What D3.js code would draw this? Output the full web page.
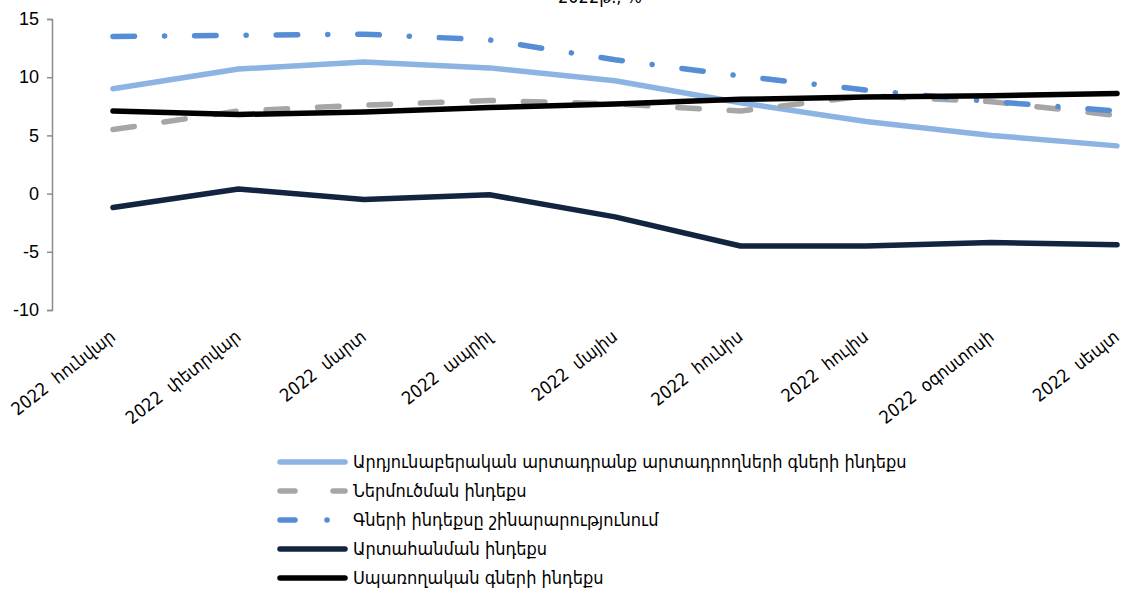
<!DOCTYPE html>
<html>
<head>
<meta charset="utf-8">
<script src="https://cdn.jsdelivr.net/npm/d3@7"></script>
<style>
  body { margin: 0; background: #fff; }
  svg { display: block; }
  text { font-family: "Liberation Sans", "DejaVu Sans", sans-serif; fill: #000; }
  .arm { font-family: "DejaVu Sans Condensed", "DejaVu Sans", sans-serif; }
</style>
</head>
<body>
<div id="chart"></div>
<script>
// data
var months = ["2022  հունվար", "2022  փետրվար", "2022  մարտ", "2022  ապրիլ", "2022  մայիս",
              "2022  հունիս", "2022  հուլիս", "2022  օգոստոսի", "2022  սեպտ"];
var ppi = [9.0, 10.7, 11.3, 10.8, 9.7, 7.8, 6.2, 5.0, 4.1];
var importIdx = [5.5, 7.1, 7.6, 8.0, 7.7, 7.1, 8.4, 7.9, 6.7];
var construction = [13.5, 13.6, 13.7, 13.2, 11.5, 10.1, 8.9, 7.9, 7.1];
var exportIdx = [-1.2, 0.4, -0.5, -0.1, -2.0, -4.5, -4.5, -4.2, -4.4];
var cpi = [7.1, 6.8, 7.0, 7.4, 7.7, 8.1, 8.3, 8.4, 8.6];
var yTicks = [15, 10, 5, 0, -5, -10];

var series = [
  {name: "Արդյունաբերական արտադրանք արտադրողների գների ինդեքս", values: ppi, color: "#8db3e2", dash: null},
  {name: "Ներմուծման ինդեքս", values: importIdx, color: "#a6a6a6", dash: "21.5 30"},
  {name: "Գների ինդեքսը շինարարությունում", values: construction, color: "#558ed5", dash: "21.5 30 0.1 30"},
  {name: "Արտահանման ինդեքս", values: exportIdx, color: "#12243f", dash: null},
  {name: "Սպառողական գների ինդեքս", values: cpi, color: "#000000", dash: null}
];

var W = 1124, H = 590;
var svg = d3.select("#chart").append("svg")
    .attr("width", W)
    .attr("height", H);

// title, mostly cut off at the top
svg.append("text")
    .attr("class", "arm")
    .attr("x", 600)
    .attr("y", 3)
    .attr("text-anchor", "middle")
    .style("font-size", "18px")
    .text("2022թ., %");

var x = d3.scalePoint()
    .domain(months)
    .range([113, 1117]);

var y = d3.scaleLinear()
    .domain([-10, 15])
    .range([310, 19]);

// y axis
var yAxis = svg.append("g")
    .attr("transform", "translate(52,0)")
    .call(d3.axisLeft(y).tickValues(yTicks).tickSize(5).tickPadding(8)
      .tickFormat(function(d) { return d < 0 ? "-" + Math.abs(d) : String(d); }));
yAxis.select(".domain").attr("stroke", "#8c8c8c").attr("stroke-width", 1.5);
yAxis.selectAll(".tick line").attr("stroke", "#8c8c8c").attr("stroke-width", 1.5);
yAxis.selectAll(".tick text")
    .style("font-size", "18px")
    .style("font-family", "Liberation Sans, DejaVu Sans, sans-serif")
    .attr("fill", "#000");

// x labels, rotated (keep the double space)
var xAxis = svg.append("g")
    .attr("transform", "translate(0,318)")
    .call(d3.axisBottom(x).tickSize(0).tickPadding(0));
xAxis.select(".domain").remove();
xAxis.selectAll(".tick text")
    .attr("class", "arm")
    .style("font-size", "18px")
    .style("white-space", "pre")
    .attr("fill", "#000")
    .attr("text-anchor", "end")
    .attr("y", 0)
    .attr("dy", 0)
    .attr("transform", "translate(3,21) rotate(-38)");

var line = d3.line()
    .x(function(d, i) { return x(months[i]); })
    .y(function(d) { return y(d); });

series.forEach(function(s) {
  svg.append("path")
      .datum(s.values)
      .attr("d", line)
      .attr("fill", "none")
      .attr("stroke", s.color)
      .attr("stroke-width", 5.5)
      .attr("stroke-linecap", "round")
      .attr("stroke-linejoin", "round")
      .attr("stroke-dasharray", s.dash);
});

// legend
var legend = svg.append("g");
series.forEach(function(s, i) {
  var ly = 462 + i * 29;
  legend.append("line")
      .attr("x1", 280).attr("x2", 345)
      .attr("y1", ly).attr("y2", ly)
      .attr("stroke", s.color)
      .attr("stroke-width", 5.5)
      .attr("stroke-linecap", "round")
      .attr("stroke-dasharray", s.dash ? (i == 1 ? "15 38" : "15 32 0.1 30") : null);
  legend.append("text")
      .attr("class", "arm")
      .attr("x", 353)
      .attr("y", ly)
      .attr("dy", "0.35em")
      .style("font-size", "18px")
      .text(s.name);
});
</script>
</body>
</html>
